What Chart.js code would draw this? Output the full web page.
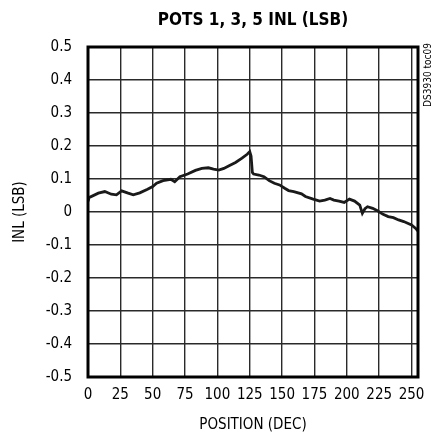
<!DOCTYPE html>
<html>
<head>
<meta charset="utf-8">
<style>
  html, body { margin: 0; padding: 0; background: #fff; }
  #wrap { width: 438px; height: 434px; }
</style>
</head>
<body>
<div id="wrap">
  <canvas id="inl" width="438" height="434"></canvas>
</div>

<script src="https://cdn.jsdelivr.net/npm/chart.js"></script>

<script>
  // INL (LSB), position in decimal code
  const positions = [0, 1, 2, 8, 13, 18, 22, 26, 31, 35, 40, 46, 50, 53, 58, 64, 67, 71, 77, 83, 88, 93, 97,
    101, 105, 109, 114, 119, 123, 125, 126, 127, 128, 132, 136, 140, 144, 148, 152, 155, 159, 165, 168,
    174, 179, 183, 187, 190, 194, 198, 202, 206, 210, 212, 214, 216, 220, 224, 228, 232, 236, 240, 244,
    247, 250, 253, 255];
  const inl = [0.032, 0.045, 0.046, 0.057, 0.062, 0.054, 0.052, 0.064, 0.057, 0.052, 0.058, 0.069, 0.077,
    0.087, 0.095, 0.099, 0.092, 0.107, 0.115, 0.126, 0.132, 0.134, 0.130, 0.127, 0.132, 0.140, 0.150,
    0.163, 0.175, 0.183, 0.170, 0.120, 0.115, 0.112, 0.107, 0.095, 0.087, 0.082, 0.072, 0.065, 0.062,
    0.055, 0.047, 0.039, 0.033, 0.036, 0.041, 0.036, 0.033, 0.029, 0.039, 0.033, 0.021, -0.004, 0.010,
    0.016, 0.011, 0.003, -0.007, -0.014, -0.017, -0.024, -0.029, -0.034, -0.039, -0.049, -0.058];

  const xTicks = [0, 25, 50, 75, 100, 125, 150, 175, 200, 225, 250];
  const yTicks = [-0.5, -0.4, -0.3, -0.2, -0.1, 0, 0.1, 0.2, 0.3, 0.4, 0.5];

  const narrow = "'Liberation Sans Narrow', 'DejaVu Sans Condensed', 'Liberation Sans', sans-serif";

  // frame round the plot area and the code note on the right
  const framePlugin = {
    id: 'frame',
    afterDraw(chart) {
      const { ctx, chartArea: a } = chart;
      ctx.save();
      ctx.strokeStyle = '#000';
      ctx.lineWidth = 3;
      ctx.strokeRect(a.left, a.top, a.right - a.left, a.bottom - a.top);
      ctx.translate(428, 75);
      ctx.rotate(-Math.PI / 2);
      ctx.fillStyle = '#000';
      ctx.font = "10px " + narrow;
      ctx.textAlign = 'center';
      ctx.textBaseline = 'middle';
      ctx.fillText('DS3930 toc09', 0, 0);
      ctx.restore();
    }
  };

  const pts = positions.map((p, i) => ({ x: p, y: inl[i] }));

  new Chart(document.getElementById('inl'), {
    type: 'line',
    data: {
      datasets: [{
        data: pts,
        borderColor: '#1a1a1a',
        borderWidth: 2.8,
        pointRadius: 0,
        tension: 0,
        fill: false
      }]
    },
    options: {
      responsive: false,
      animation: false,
      layout: { padding: { left: 0, right: 20, top: 0, bottom: 0 } },
      plugins: {
        legend: { display: false },
        tooltip: { enabled: false },
        title: {
          display: true,
          fullSize: false,
          text: 'POTS 1, 3, 5 INL (LSB)',
          color: '#000',
          font: { family: narrow, size: 17, weight: 'bold', lineHeight: 1.2 },
          padding: { top: 10, bottom: 16.6 }
        }
      },
      scales: {
        x: {
          type: 'linear',
          min: 0,
          max: 255,
          afterBuildTicks(s) { s.ticks = xTicks.map(v => ({ value: v })); },
          afterFit(s) { s.height = 57; },
          grid: { color: '#2a2a2a', lineWidth: 1.4, drawTicks: false },
          border: { display: false },
          ticks: { color: '#000', padding: 9, maxRotation: 0, font: { family: narrow, size: 15 } },
          title: {
            display: true,
            text: 'POSITION (DEC)',
            color: '#000',
            font: { family: narrow, size: 15 },
            padding: { top: 4, bottom: 0 }
          }
        },
        y: {
          min: -0.5,
          max: 0.5,
          afterBuildTicks(s) { s.ticks = yTicks.map(v => ({ value: v })); },
          afterFit(s) { s.width = 88; },
          grid: { color: '#2a2a2a', lineWidth: 1.4, drawTicks: false },
          border: { display: false },
          ticks: {
            color: '#000',
            padding: 16,
            font: { family: narrow, size: 15 },
            callback: v => String(Math.round(v * 10) / 10)
          },
          title: {
            display: true,
            text: 'INL (LSB)',
            color: '#000',
            font: { family: narrow, size: 15 },
            padding: { top: 11, bottom: 0 }
          }
        }
      }
    },
    plugins: [framePlugin]
  });
</script>
</body>
</html>
